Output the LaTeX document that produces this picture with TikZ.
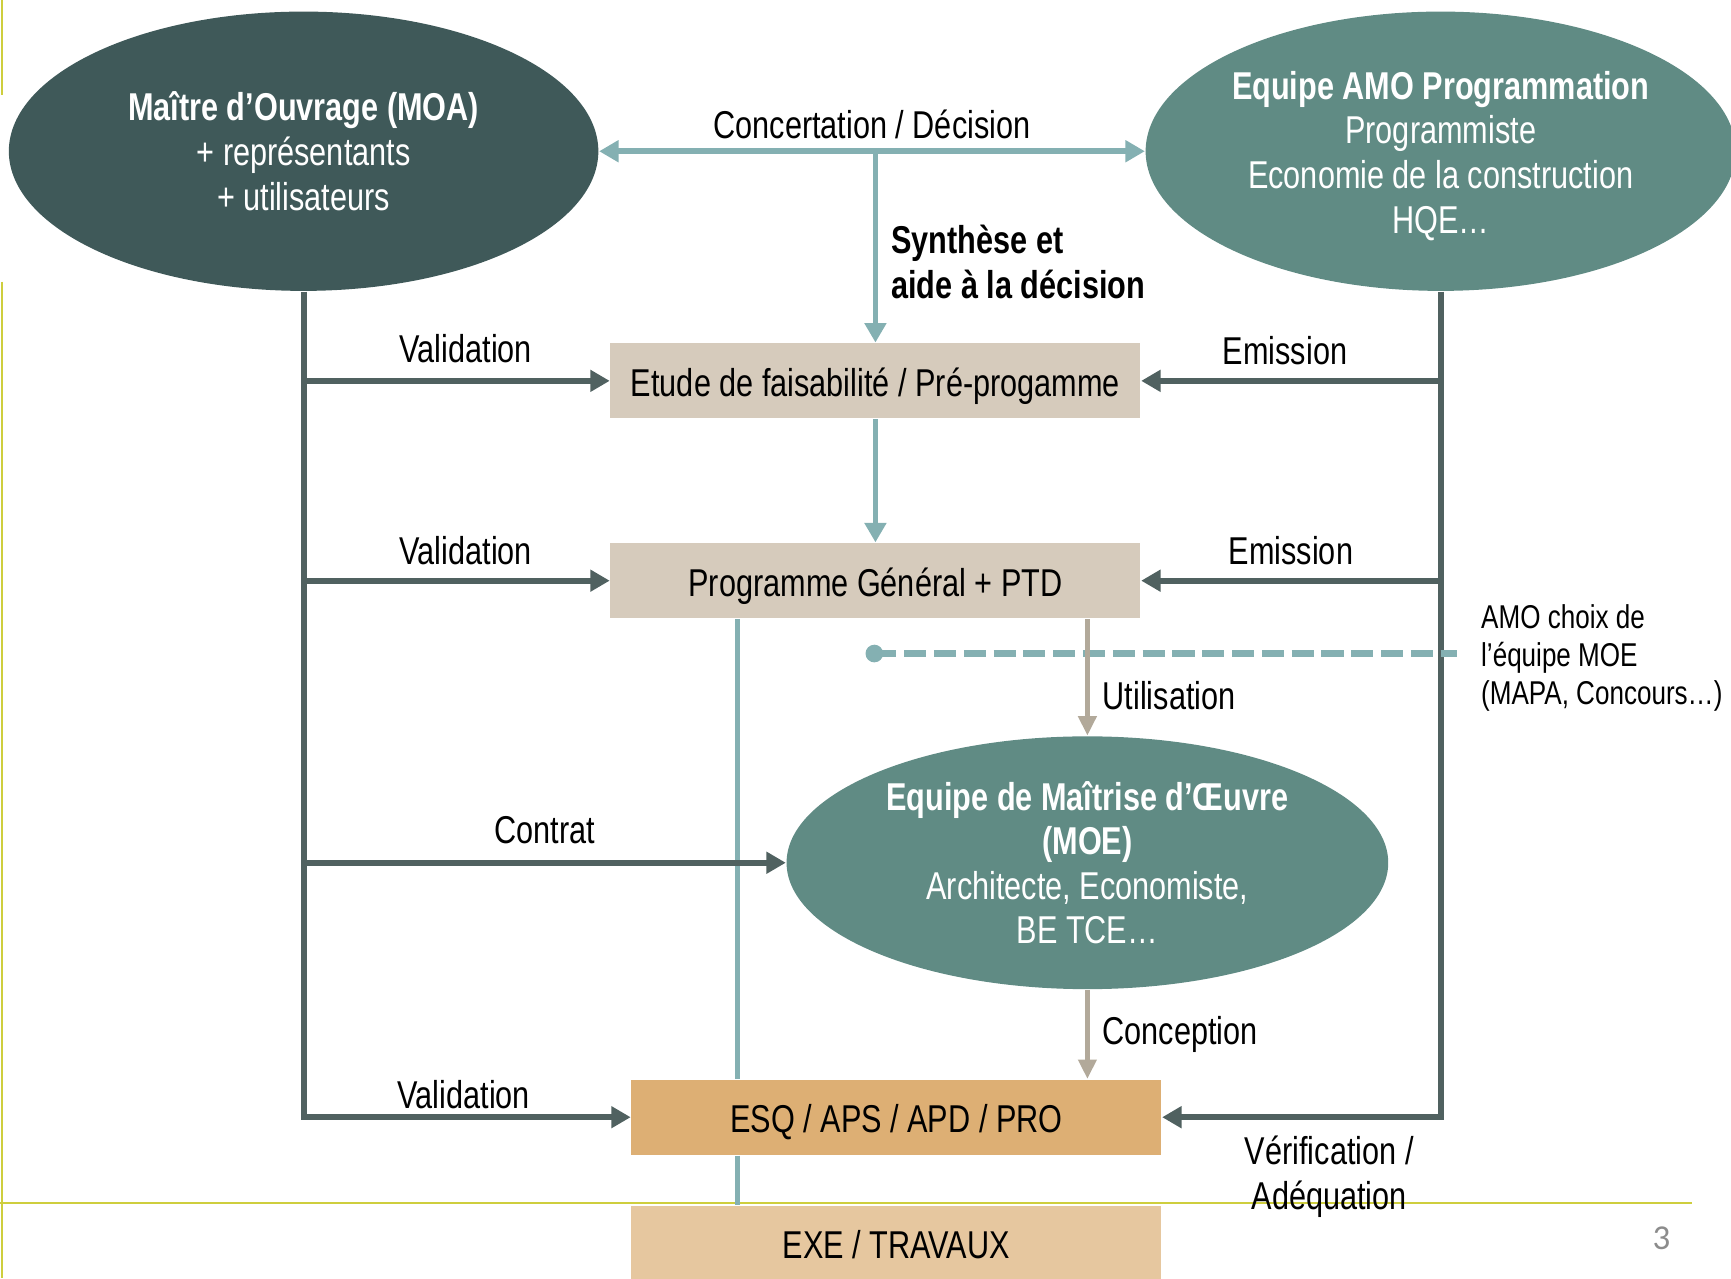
\documentclass[tikz,border=0pt]{standalone}
\usepackage{fontspec}
\setmainfont{Liberation Sans}[FakeStretch=0.79]
\newfontfamily\pagefont{Carlito}
\usetikzlibrary{arrows.meta,shapes.geometric,positioning}

\definecolor{moadark}{RGB}{63,89,89}
\definecolor{teamteal}{RGB}{96,139,132}
\definecolor{lightteal}{RGB}{132,176,178}
\definecolor{darkline}{RGB}{80,97,96}
\definecolor{sandbox}{RGB}{214,203,188}
\definecolor{greyarrow}{RGB}{178,169,154}
\definecolor{esqfill}{RGB}{221,175,116}
\definecolor{exefill}{RGB}{230,199,159}
\definecolor{slideline}{RGB}{206,206,62}

\begin{document}
\begin{tikzpicture}[node distance=2cm,on grid,font=\fontsize{10}{11.5}\selectfont]
       \tikzstyle{actor}=[ellipse, inner sep=0pt, align=center, text=white, minimum height=2.53cm]
       \tikzstyle{phase}=[rectangle, inner sep=0pt, minimum width=4.8cm, minimum height=0.68cm,
            text height=9.5pt, text depth=1.5pt]
       \tikzstyle{darkarrow}=[darkline, text=black, line width=1.5pt, -{Triangle[length=5pt,width=5.4pt]}]
       \tikzstyle{tealarrow}=[lightteal, text=black, line width=1.5pt, -{Triangle[length=5pt,width=5.4pt]}]
       \tikzstyle{greyarr}=[greyarrow, text=black, line width=1.2pt, -{Triangle[length=5pt,width=4.6pt]}]

       \useasboundingbox (0,0) rectangle (15.68,-11.58);
       \draw[slideline, line width=0.5pt] (0.015,0) -- (0.015,-0.86) (0.015,-2.55) -- (0.015,-11.58)
            (0,-10.90) -- (15.33,-10.90);

       \node[actor, fill=moadark, minimum width=5.34cm] (moa) at (2.75,-1.37)
            {\textbf{Maître d’Ouvrage (MOA)}\\+ représentants\\+ utilisateurs};
       \node[actor, fill=teamteal, minimum width=5.30cm] (amo) [right=10.3cm of moa]
            {\rule{0pt}{9.6pt}\textbf{Equipe AMO Programmation}\\Programmiste\\Economie de la construction\\HQE…};
       \node[phase, fill=sandbox] (etude) at (7.93,-3.45) {Etude de faisabilité / Pré-progamme};
       \node[phase, fill=sandbox] (prog) [below=1.81cm of etude] {Programme Général + PTD};
       \node[actor, fill=teamteal, minimum width=5.45cm, minimum height=2.29cm] (moe) at (9.85,-7.815)
            {\textbf{Equipe de Maîtrise d’Œuvre}\\\textbf{(MOE)}\\Architecte, Economiste,\\BE TCE…};
       \node[phase, fill=esqfill] (esq) at (8.12,-10.12) {ESQ / APS / APD / PRO};
       \node[phase, fill=exefill] (exe) [below=1.14cm of esq] {EXE / TRAVAUX};
       \node[anchor=west, align=left, inner sep=0pt, font=\fontsize{8.5}{9.9}\selectfont] (choix)
            at (13.41,-5.96) {AMO choix de\\l’équipe MOE\\(MAPA, Concours…)};
       \node[text=black!45, font=\pagefont\fontsize{9}{10}\selectfont] (pagenum) at (15.05,-11.22) {3};

       \coordinate (tealx) at (6.68,0);
       \coordinate (choixdot) at (7.92,-5.92);

       \draw[lightteal, line width=1.5pt] (tealx |- prog.south) -- (tealx |- esq.north)
            (tealx |- esq.south) -- (tealx |- exe.north);

       \draw[tealarrow, {Triangle[length=5pt,width=5.4pt]}-{Triangle[length=5pt,width=5.4pt]}]
            (moa.east) -- node[above, yshift=-0.8pt] {Concertation / Décision} (amo.west);
       \draw[tealarrow] (etude.north |- moa.east) -- node[pos=0.58, right, align=left, font=\fontsize{10}{11.5}\selectfont\bfseries]
            {Synthèse et\\aide à la décision} (etude.north);
       \path[tealarrow] (etude) edge (prog);

       \draw[darkarrow] (moa.south) |- node[above, pos=0.745, yshift=-2pt] {Validation} (esq.west);
       \path[darkarrow]
       (moa.south |- etude.west) edge node[above, pos=0.53, yshift=0.5pt] {Validation} (etude.west)
       (moa.south |- prog.west) edge node[above, pos=0.53] {Validation} (prog.west)
       (moa.south |- moe.west) edge node[above, yshift=0.8pt] {Contrat} (moe.west);

       \draw[darkarrow] (amo.south) |- node[below, pos=0.70, yshift=-0.8pt, align=center] {Vérification /\\Adéquation} (esq.east);
       \path[darkarrow]
       (amo.south |- etude.east) edge node[above, pos=0.52] {Emission} (etude.east)
       (amo.south |- prog.east) edge node[above] {Emission} (prog.east);

       \draw[lightteal, line width=1.7pt, dash pattern=on 0.2cm off 0.07cm, shorten >=0.21cm] (choixdot) -- (choixdot -| choix.west);
       \fill[lightteal] (choixdot) circle (0.08);

       \draw[greyarr] (moe.north |- prog.south) -- node[pos=0.66, right] {Utilisation} (moe.north);
       \draw[greyarr] (moe.south) -- node[right] {Conception} (moe.south |- esq.north);
     \end{tikzpicture}
\end{document}
